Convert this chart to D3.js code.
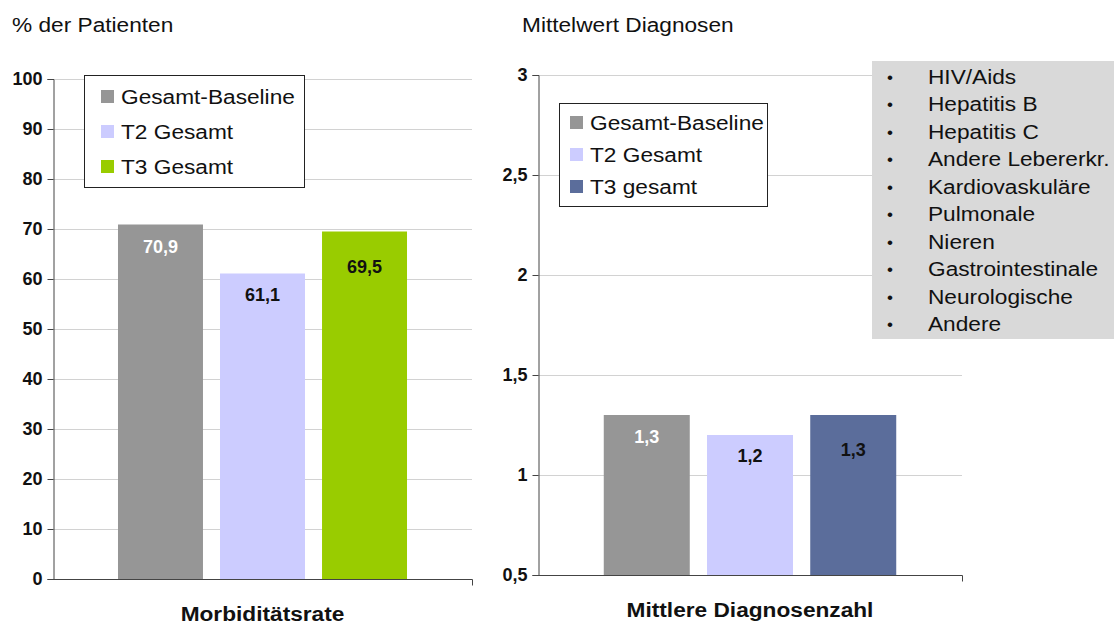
<!DOCTYPE html>
<html>
<head>
<meta charset="utf-8">
<script src="https://cdn.jsdelivr.net/npm/d3@7"></script>
<style>
  html, body { margin: 0; padding: 0; background: #fff; }
  svg { display: block; font-family: "Liberation Sans", Arial, sans-serif; }
</style>
</head>
<body>
<svg id="chart" width="1114" height="626"></svg>
<script>
// Morbidity rate (% of patients)
const morbSeries = ["Gesamt-Baseline", "T2 Gesamt", "T3 Gesamt"];
const morbValues = [70.9, 61.1, 69.5];
const morbTicks = [0, 10, 20, 30, 40, 50, 60, 70, 80, 90, 100];

// Mean number of diagnoses
const diagSeries = ["Gesamt-Baseline", "T2 Gesamt", "T3 gesamt"];
const diagValues = [1.3, 1.2, 1.3];
const diagTicks = [0.5, 1, 1.5, 2, 2.5, 3];

// Diagnosis groups listed in the side box
const diagnosisGroups = [
  "HIV/Aids", "Hepatitis B", "Hepatitis C", "Andere Lebererkr.",
  "Kardiovaskuläre", "Pulmonale", "Nieren", "Gastrointestinale",
  "Neurologische", "Andere"
];

const morbColors = ["#969696", "#ccccff", "#99cc00"];
const diagColors = ["#969696", "#ccccff", "#5b6d9b"];
const labelColors = ["#ffffff", "#111111", "#111111"];

// slightly wide lettering for the running text
const SX = 1.08;

const svg = d3.select("#chart");
const deComma = d3.formatLocale({ decimal: ",", thousands: ".", grouping: [3], currency: ["", " €"] });
const fmt1 = deComma.format(".1f");
const fmtTick = v => String(v).replace(".", ",");

function wideText(parent, x, y, str) {
  return parent.append("text")
    .attr("transform", `translate(${x},${y}) scale(${SX},1)`)
    .text(str);
}

function drawPanel(opt) {
  const g = svg.append("g");
  const y = d3.scaleLinear().domain(opt.domain).range([opt.bottom, opt.top]);
  const x = d3.scaleBand().domain(opt.series).range([opt.left, opt.right])
    .paddingInner(0.167).paddingOuter(0.637);

  // horizontal grid
  g.append("g").selectAll("line").data(opt.ticks.slice(1)).join("line")
    .attr("x1", opt.left).attr("x2", opt.right)
    .attr("y1", d => Math.round(y(d)) + 0.5).attr("y2", d => Math.round(y(d)) + 0.5)
    .attr("stroke", "#d2d2d2").attr("stroke-width", 1);

  // bars
  g.append("g").selectAll("rect").data(opt.values).join("rect")
    .attr("x", (d, i) => x(opt.series[i]))
    .attr("width", x.bandwidth())
    .attr("y", d => y(d))
    .attr("height", d => y(opt.domain[0]) - y(d))
    .attr("fill", (d, i) => opt.colors[i]);

  // value labels
  const labelDrop = [22, 21, 35];
  g.append("g").selectAll("text").data(opt.values).join("text")
    .attr("x", (d, i) => x(opt.series[i]) + x.bandwidth() / 2)
    .attr("y", (d, i) => y(d) + labelDrop[i] + 6)
    .attr("text-anchor", "middle")
    .attr("font-weight", "bold").attr("font-size", 18)
    .attr("fill", (d, i) => labelColors[i])
    .text(d => fmt1(d));

  // y axis
  const yAxis = d3.axisLeft(y).tickValues(opt.ticks).tickSize(6).tickPadding(5)
    .tickFormat(opt.tickFormat);
  const ya = g.append("g").attr("transform", `translate(${opt.left + 0.5},0)`).call(yAxis);
  ya.select(".domain").attr("stroke", "#444");
  ya.selectAll(".tick line").attr("stroke", "#444");
  ya.selectAll(".tick text").attr("font-family", "Liberation Sans, Arial, sans-serif")
    .attr("font-size", 18).attr("font-weight", "bold").attr("fill", "#111");

  // x axis baseline with end tick
  g.append("path")
    .attr("d", `M${opt.left},${Math.round(opt.bottom) + 0.5}H${opt.right + 0.5}v6`)
    .attr("fill", "none").attr("stroke", "#444");

  // category label
  wideText(g, (opt.left + opt.right) / 2, opt.bottom + 42, opt.category)
    .attr("text-anchor", "middle").attr("font-weight", "bold").attr("font-size", 21)
    .attr("fill", "#111");

  // unit title
  wideText(g, opt.titleX, 32, opt.title).attr("font-size", 21).attr("fill", "#111");

  // legend
  const lg = g.append("g");
  lg.append("rect").attr("x", opt.legend.x + 0.5).attr("y", opt.legend.y + 0.5)
    .attr("width", opt.legend.w).attr("height", opt.legend.h)
    .attr("fill", "#fff").attr("stroke", "#222");
  opt.series.forEach((s, i) => {
    const cy = opt.legend.y + opt.legend.first + i * opt.legend.step;
    lg.append("rect").attr("x", opt.legend.x + opt.legend.pad).attr("y", cy - 7)
      .attr("width", 13).attr("height", 13).attr("fill", opt.colors[i]);
    wideText(lg, opt.legend.x + opt.legend.pad + 20, cy + 7, s)
      .attr("font-size", 21).attr("fill", "#111");
  });
}

drawPanel({
  series: morbSeries, values: morbValues, colors: morbColors, ticks: morbTicks,
  domain: [0, 100], top: 79, bottom: 579, left: 53, right: 472,
  tickFormat: d => String(d),
  category: "Morbiditätsrate", title: "% der Patienten", titleX: 12,
  legend: { x: 84, y: 75, w: 220, h: 112, pad: 17, first: 22, step: 35 }
});

drawPanel({
  series: diagSeries, values: diagValues, colors: diagColors, ticks: diagTicks,
  domain: [0.5, 3], top: 75, bottom: 575, left: 538, right: 962,
  tickFormat: fmtTick,
  category: "Mittlere Diagnosenzahl", title: "Mittelwert Diagnosen", titleX: 522,
  legend: { x: 559, y: 103, w: 208, h: 103, pad: 11, first: 20, step: 32 }
});

// side box with diagnosis groups
const box = svg.append("g");
box.append("rect").attr("x", 872).attr("y", 61).attr("width", 242).attr("height", 278)
  .attr("fill", "#d9d9d9");
const rowY = d3.scalePoint().domain(diagnosisGroups).range([77, 324]);
box.selectAll("text.bullet").data(diagnosisGroups).join("text").attr("class", "bullet")
  .attr("x", 887).attr("y", d => rowY(d) + 6)
  .attr("font-size", 17).attr("fill", "#111").text("•");
diagnosisGroups.forEach(d => {
  wideText(box, 928, rowY(d) + 7, d).attr("font-size", 21).attr("fill", "#111");
});
</script>
</body>
</html>
